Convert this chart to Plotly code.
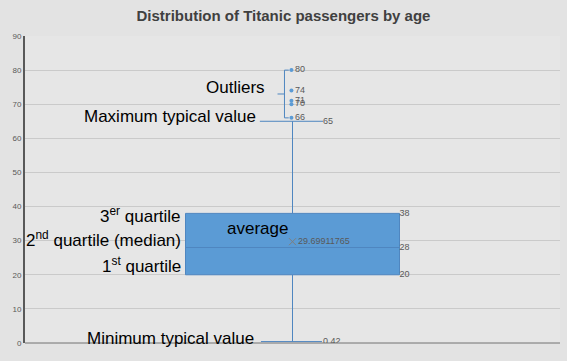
import plotly.graph_objects as go

# ---- data ----
q1 = 20
median = 28
q3 = 38
lower_fence = 0.42
upper_fence = 65
mean_age = 29.69911765
outliers = [80, 74, 71, 70, 66]
y_ticks = [0, 10, 20, 30, 40, 50, 60, 70, 80, 90]

BLUE = "#5b9bd5"
EDGE = "#4f86c0"
LBL = "#595959"
FONT = "Liberation Sans"

fig = go.Figure()

fig.add_trace(go.Box(
    x=[0], q1=[q1], median=[median], q3=[q3],
    lowerfence=[lower_fence], upperfence=[upper_fence],
    width=0.4, whiskerwidth=0,
    fillcolor=BLUE, line=dict(color=EDGE, width=1),
    boxpoints=False, hoverinfo="skip", showlegend=False,
))

# outliers
fig.add_trace(go.Scatter(
    x=[-0.002] * len(outliers), y=outliers, mode="markers+text",
    marker=dict(color=BLUE, size=4),
    text=[str(v) for v in outliers], textposition="middle right",
    textfont=dict(size=9, color=LBL, family=FONT), showlegend=False,
))

# mean
fig.add_trace(go.Scatter(
    x=[0], y=[mean_age], mode="markers+text",
    marker=dict(symbol="x-thin", size=7, color="#7f7f7f", line=dict(color="#7f7f7f", width=1)),
    text=[f"{mean_age:.8f}"], textposition="middle right",
    textfont=dict(size=9, color=LBL, family=FONT), showlegend=False,
))

# quartile value labels
fig.add_trace(go.Scatter(
    x=[0.2] * 3, y=[q3, median, q1], mode="text",
    text=[str(q3), str(median), str(q1)], textposition="middle right",
    textfont=dict(size=9, color=LBL, family=FONT), showlegend=False,
))

# fence value labels
fig.add_trace(go.Scatter(
    x=[0.057, 0.057], y=[upper_fence, lower_fence], mode="text",
    text=[str(upper_fence), str(lower_fence)], textposition="middle right",
    textfont=dict(size=9, color=LBL, family=FONT), showlegend=False,
))

line_style = dict(color=EDGE, width=1)
mid_out = (max(outliers) + min(outliers)) / 2
shapes = [
    # leader lines for max/min typical value
    dict(type="line", xref="x", yref="y", x0=-0.061, x1=0.057, y0=upper_fence, y1=upper_fence, line=line_style),
    dict(type="line", xref="x", yref="y", x0=-0.059, x1=0.055, y0=lower_fence, y1=lower_fence, line=line_style),
    # outlier bracket
    dict(type="line", xref="x", yref="y", x0=-0.015, x1=-0.015, y0=max(outliers), y1=min(outliers), line=line_style),
    dict(type="line", xref="x", yref="y", x0=-0.015, x1=-0.007, y0=max(outliers), y1=max(outliers), line=line_style),
    dict(type="line", xref="x", yref="y", x0=-0.015, x1=-0.007, y0=min(outliers), y1=min(outliers), line=line_style),
    dict(type="line", xref="x", yref="y", x0=-0.028, x1=-0.015, y0=mid_out, y1=mid_out, line=line_style),
]

big = dict(size=17, color="#000000", family=FONT)
annotations = [
    dict(x=-0.047, y=74.8, text="Outliers"),
    dict(x=-0.065, y=66.3, text="Maximum typical value"),
    dict(x=-0.204, y=37.5, text="3<sup>er</sup> quartile"),
    dict(x=-0.204, y=30.5, text="2<sup>nd</sup> quartile (median)"),
    dict(x=-0.204, y=22.9, text="1<sup>st</sup> quartile"),
    dict(x=-0.004, y=33.7, text="average"),
    dict(x=-0.069, y=1.3, text="Minimum typical value"),
]
for a in annotations:
    a.update(xref="x", yref="y", xanchor="right", yanchor="middle", showarrow=False, font=big)

fig.update_layout(
    width=567, height=361,
    margin=dict(l=25, r=7, t=36, b=18),
    paper_bgcolor="#e3e3e3", plot_bgcolor="#e6e6e6",
    title=dict(text="<b>Distribution of Titanic passengers by age</b>",
               x=0.5, xanchor="center", y=0.955, yanchor="middle",
               font=dict(size=15, color="#404040", family=FONT)),
    xaxis=dict(range=[-0.5, 0.5], visible=False, fixedrange=True),
    yaxis=dict(range=[0, 90], tickvals=y_ticks, showgrid=True, gridcolor="rgba(0,0,0,0.12)", gridwidth=1,
               showline=True, linecolor="#595959", linewidth=2, zeroline=True, zerolinecolor="rgba(0,0,0,0.25)",
               tickfont=dict(size=8, color=LBL, family=FONT), ticks="", ticklen=0, automargin=False,
               fixedrange=True),
    shapes=shapes, annotations=annotations, showlegend=False,
)

fig.write_html("out.html", config={"displayModeBar": False},
               post_script="document.body.style.margin='0';")
